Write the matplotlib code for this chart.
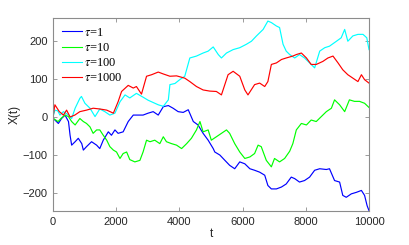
import matplotlib
matplotlib.use("Agg")
import matplotlib.pyplot as plt
import numpy as np

plt.rcParams['font.family'] = ['Liberation Sans', 'DejaVu Sans']
plt.rcParams['mathtext.fontset'] = 'stix'

# values
t_blue = [0, 10, 170, 270, 380, 490, 540, 590, 700, 800, 910, 960, 1060, 1220, 1380, 1480, 1590,
          1750, 1850, 1960, 2060, 2220, 2380, 2540, 2700, 2850, 3010, 3170, 3330, 3490, 3650, 3800,
          3960, 4120, 4280, 4440, 4590, 4750, 4910, 5070, 5120, 5280, 5440, 5590, 5750, 5910, 6070,
          6230, 6380, 6540, 6700, 6800, 6910, 7070, 7230, 7380, 7540, 7650, 7800, 7960, 8120, 8280,
          8440, 8650, 8750, 8910, 9070, 9170, 9280, 9440, 9600, 9760, 9860, 9940, 10000]
x_blue = [0, -4, -17, -4, 5, -12, -48, -74, -65, -56, -70, -87, -78, -65, -74, -83, -61,
          -39, -48, -34, -43, -39, -12, 5, 5, 5, 10, 14, 5, 27, 30, 23,
          14, 12, 19, -12, -21, -43, -61, -83, -92, -100, -114, -127, -136, -118, -123,
          -136, -140, -145, -153, -180, -189, -189, -184, -176, -158, -162, -171, -167, -158, -140,
          -136, -138, -136, -167, -171, -206, -211, -202, -198, -193, -206, -233, -246]

t_green = [0, 10, 160, 250, 380, 490, 590, 700, 850, 960, 1060, 1170, 1270, 1380, 1480, 1590,
           1700, 1800, 1910, 2010, 2120, 2220, 2330, 2430, 2590, 2750, 2850, 2960, 3070, 3220,
           3380, 3490, 3590, 3750, 3910, 4070, 4230, 4380, 4540, 4650, 4750, 4910, 5010, 5170,
           5330, 5490, 5590, 5750, 5910, 6070, 6230, 6380, 6490, 6590, 6750, 6910, 7010, 7170,
           7330, 7490, 7590, 7700, 7860, 8020, 8170, 8330, 8490, 8650, 8810, 8910, 9070, 9230,
           9380, 9540, 9700, 9860, 10000]
x_green = [0, -4, -12, -4, 5, 1, -12, -21, -4, -12, -17, -26, -43, -34, -34, -48,
           -61, -78, -87, -92, -109, -96, -92, -112, -118, -114, -92, -61, -65, -61,
           -70, -52, -65, -70, -74, -83, -70, -56, -34, -12, -39, -34, -61, -52,
           -43, -34, -43, -70, -92, -109, -105, -96, -74, -78, -114, -131, -109, -118,
           -109, -90, -70, -34, -17, -21, -8, -12, 1, 14, 23, 45, 32, 14,
           45, 41, 41, 36, 25]

t_cyan = [0, 60, 150, 220, 330, 490, 590, 700, 850, 900, 1010, 1170, 1330, 1480, 1640, 1800,
          1960, 2120, 2280, 2430, 2640, 2850, 3010, 3170, 3330, 3490, 3650, 3700, 3860, 4010,
          4170, 4330, 4540, 4750, 4910, 5070, 5230, 5330, 5490, 5700, 5910, 6120, 6280, 6440,
          6650, 6800, 6910, 7070, 7170, 7280, 7380, 7490, 7650, 7800, 7960, 8120, 8280, 8440,
          8600, 8750, 8970, 9120, 9230, 9330, 9490, 9650, 9810, 9930, 10000]
x_cyan = [0, 18, 16, 5, 14, 5, -4, 23, 49, 54, 36, 23, 1, 21, 14, 5,
          10, 40, 58, 50, 62, 52, 44, 38, 32, 28, 45, 85, 88, 98,
          107, 155, 160, 168, 173, 184, 164, 155, 168, 177, 182, 191, 199, 213,
          230, 252, 248, 239, 235, 191, 173, 164, 155, 164, 155, 142, 129, 173,
          182, 186, 199, 208, 230, 199, 213, 217, 217, 208, 177]

t_red = [0, 60, 200, 330, 430, 540, 690, 850, 1060, 1270, 1480, 1700, 1910, 2060, 2170, 2380,
         2540, 2640, 2800, 2960, 3120, 3330, 3490, 3700, 3910, 4170, 4330, 4540, 4750, 4960,
         5170, 5330, 5540, 5700, 5910, 6070, 6170, 6380, 6540, 6700, 6800, 6910, 7070, 7230,
         7380, 7590, 7700, 7860, 8020, 8170, 8330, 8540, 8700, 8860, 9020, 9170, 9330, 9490,
         9650, 9760, 9860, 10000]
x_red = [0, 32, 14, 5, 18, 0, 5, 14, 18, 23, 21, 18, 10, 40, 67, 83,
         76, 80, 60, 107, 111, 118, 113, 107, 108, 102, 93, 80, 71, 68,
         67, 58, 111, 120, 107, 71, 58, 85, 89, 80, 93, 138, 142, 151,
         155, 160, 164, 168, 155, 138, 138, 146, 155, 160, 142, 124, 111, 102,
         93, 111, 98, 89]

series = [(t_blue, x_blue, '#0000ff', r'$\tau$=1'),
          (t_green, x_green, '#00ff00', r'$\tau$=10'),
          (t_cyan, x_cyan, '#00ffff', r'$\tau$=100'),
          (t_red, x_red, '#ff0000', r'$\tau$=1000')]

fig = plt.figure(figsize=(4.09, 2.45), dpi=100)
ax = fig.add_axes([0.1296, 0.1388, 0.7726, 0.7877])

for t, x, c, lab in series:
    ax.plot(t, x, color=c, lw=0.85, label=lab)

ax.set_xlim(0, 10000)
ax.set_ylim(-247, 260)
ax.set_xticks(np.arange(0, 10001, 2000))
ax.set_yticks([-200, -100, 0, 100, 200])
ax.tick_params(direction='in', length=3, width=0.6, labelsize=8, labelcolor='#262626',
               color='#8c8c8c', top=True, right=True, pad=4)
for s in ax.spines.values():
    s.set_color('#8c8c8c')
    s.set_linewidth(0.8)

ax.set_xlabel('t', fontsize=8.5, color='#262626', labelpad=1)
ax.set_ylabel('X(t)', fontsize=8.5, color='#262626', labelpad=1)

leg = ax.legend(loc='upper left', frameon=False, handlelength=1.6,
                handletextpad=0.2, labelspacing=0.25, borderaxespad=0.3,
                prop={'family': 'Liberation Serif', 'size': 9})
for ln, (_, _, c, _) in zip(leg.get_lines(), series):
    ln.set_color(c)
    ln.set_linewidth(0.8)

fig.savefig('out.png', dpi=100)
